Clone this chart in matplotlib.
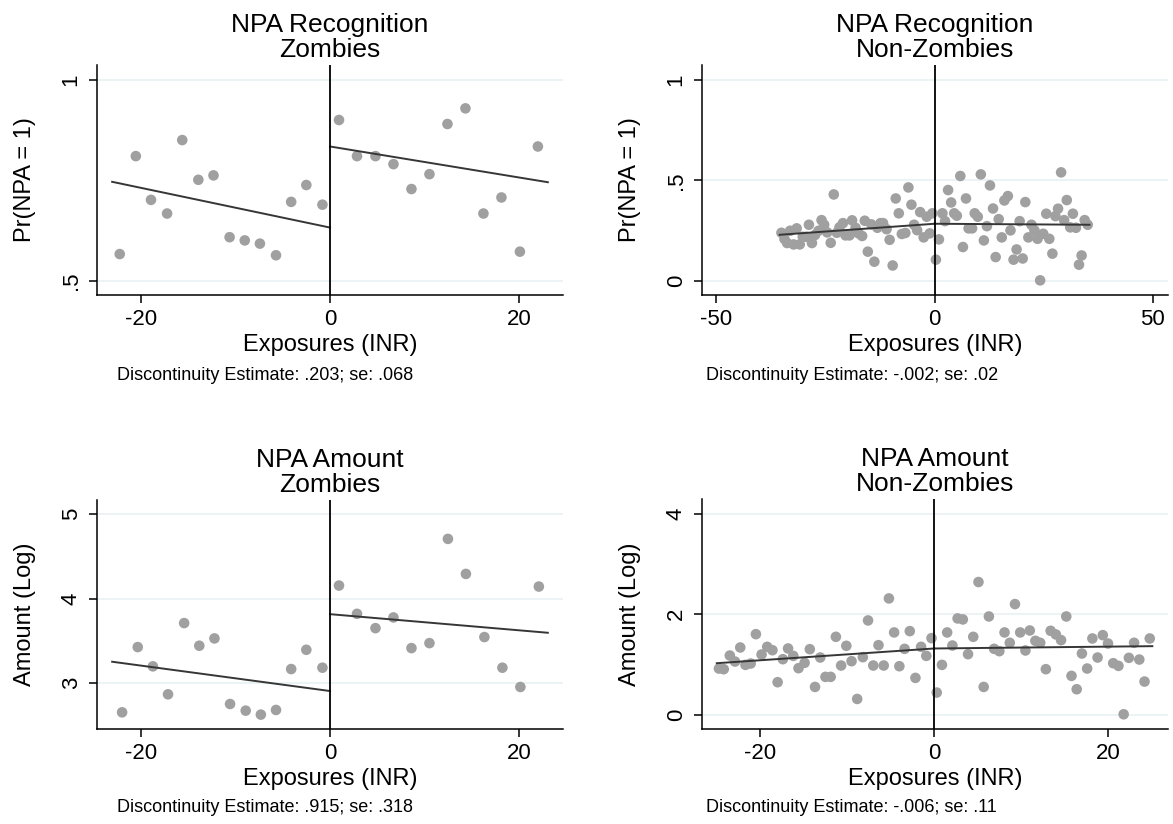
import matplotlib.pyplot as plt
import numpy as np

plt.rcParams['font.family'] = ['Liberation Sans', 'DejaVu Sans']

# Panel 1: NPA recognition, zombies (binned means)
z_rec_x = [-22.2, -20.5, -18.9, -17.2, -15.6, -13.9, -12.3, -10.6, -9.0, -7.4, -5.7, -4.1, -2.5, -0.8,
           0.95, 2.85, 4.8, 6.7, 8.6, 10.5, 12.4, 14.3, 16.2, 18.1, 20.05, 21.95]
z_rec_y = [0.566, 0.810, 0.701, 0.667, 0.850, 0.751, 0.762, 0.608, 0.600, 0.592, 0.563, 0.696, 0.738, 0.689,
           0.900, 0.810, 0.810, 0.790, 0.728, 0.765, 0.890, 0.929, 0.667, 0.707, 0.572, 0.834]
z_rec_fit_left = ([-23.0, 0.0], [0.746, 0.632])
z_rec_fit_right = ([0.0, 23.0], [0.834, 0.745])

# Panel 2: NPA recognition, non-zombies
n_rec_x = [-35.1, -34.4, -33.8, -33.1, -32.3, -31.6, -30.9, -30.2, -29.4, -28.8, -28.1, -27.4, -26.6, -25.9,
           -25.3, -24.6, -23.8, -23.1, -22.4, -21.8, -21.0, -20.4, -19.5, -18.9, -18.1, -17.4, -16.6, -16.0,
           -15.3, -14.5, -13.8, -13.1, -12.4, -11.8, -11.0, -10.3, -9.6, -8.9, -8.2, -7.5, -6.7, -6.0,
           -5.3, -4.7, -4.0, -3.3, -2.5, -1.8, -1.1, -0.5,
           0.3, 1.0, 1.8, 2.4, 3.1, 3.8, 4.5, 5.1, 5.9, 6.5, 7.2, 7.8, 8.6, 9.2, 9.9, 10.6, 11.3, 12.0,
           12.7, 13.4, 14.0, 14.7, 15.4, 16.0, 16.8, 17.4, 18.1, 18.8, 19.5, 20.2, 20.8, 21.5, 22.2, 22.9,
           23.6, 24.2, 24.9, 25.6, 26.3, 27.0, 27.7, 28.3, 29.0, 29.7, 30.3, 31.1, 31.7, 32.4, 33.1, 33.7,
           34.4, 35.1]
n_rec_y = [0.239, 0.208, 0.188, 0.249, 0.181, 0.261, 0.181, 0.219, 0.219, 0.279, 0.188, 0.228, 0.249, 0.302,
           0.279, 0.241, 0.189, 0.430, 0.239, 0.266, 0.287, 0.226, 0.226, 0.301, 0.264, 0.236, 0.223, 0.299,
           0.145, 0.281, 0.095, 0.264, 0.287, 0.287, 0.257, 0.204, 0.076, 0.410, 0.336, 0.233, 0.238, 0.465,
           0.379, 0.279, 0.252, 0.342, 0.216, 0.319, 0.236, 0.336,
           0.105, 0.206, 0.336, 0.297, 0.452, 0.390, 0.336, 0.324, 0.522, 0.168, 0.410, 0.261, 0.261, 0.336,
           0.319, 0.530, 0.201, 0.272, 0.475, 0.360, 0.118, 0.307, 0.216, 0.400, 0.422, 0.251, 0.105, 0.156,
           0.297, 0.111, 0.392, 0.216, 0.279, 0.251, 0.209, 0.002, 0.234, 0.334, 0.209, 0.135, 0.322, 0.359,
           0.540, 0.302, 0.402, 0.266, 0.334, 0.264, 0.080, 0.126, 0.302, 0.279]
n_rec_fit_left = ([-35.5, 0.0], [0.229, 0.284])
n_rec_fit_right = ([0.0, 35.5], [0.284, 0.279])

# Panel 3: NPA amount, zombies
z_amt_x = [-21.95, -20.3, -18.7, -17.1, -15.4, -13.8, -12.2, -10.55, -8.9, -7.3, -5.7, -4.1, -2.5, -0.8,
           0.95, 2.85, 4.8, 6.7, 8.6, 10.5, 12.45, 14.35, 16.3, 18.2, 20.1, 22.05]
z_amt_y = [2.648, 3.423, 3.194, 2.862, 3.708, 3.439, 3.526, 2.747, 2.668, 2.621, 2.676, 3.162, 3.391, 3.178,
           4.154, 3.818, 3.648, 3.775, 3.411, 3.470, 4.708, 4.292, 3.542, 3.178, 2.949, 4.142]
z_amt_fit_left = ([-23.0, 0.0], [3.249, 2.901])
z_amt_fit_right = ([0.0, 23.0], [3.814, 3.593])

# Panel 4: NPA amount, non-zombies
n_amt_x = [-24.75, -24.2, -23.5, -22.9, -22.3, -21.7, -21.1, -20.5, -19.85, -19.2, -18.6, -18.0, -17.4, -16.8,
           -16.2, -15.6, -14.9, -14.3, -13.7, -13.1, -12.5, -11.9, -11.3, -10.7, -10.1, -9.5, -8.85, -8.2,
           -7.6, -7.0, -6.4, -5.8, -5.2, -4.6, -4.0, -3.4, -2.8, -2.15, -1.5, -0.9, -0.3,
           0.3, 0.9, 1.5, 2.1, 2.7, 3.3, 3.9, 4.5, 5.1, 5.7, 6.3, 6.9, 7.5, 8.1, 8.7, 9.3, 9.9, 10.5,
           11.0, 11.65, 12.2, 12.85, 13.4, 14.0, 14.6, 15.2, 15.8, 16.4, 17.0, 17.6, 18.2, 18.8, 19.4, 20.0,
           20.6, 21.2, 21.8, 22.4, 23.0, 23.6, 24.2, 24.8]
n_amt_y = [0.917, 0.904, 1.176, 1.056, 1.336, 0.990, 1.017, 1.601, 1.196, 1.349, 1.282, 0.645, 1.103, 1.316,
           1.169, 0.924, 1.030, 1.302, 0.551, 1.136, 0.751, 0.751, 1.548, 0.977, 1.369, 1.063, 0.312, 1.143,
           1.874, 0.977, 1.382, 0.977, 2.312, 1.635, 0.963, 1.309, 1.661, 0.731, 1.349, 1.169, 1.522,
           0.439, 0.990, 1.635, 1.375, 1.914, 1.894, 1.203, 1.548, 2.638, 0.551, 1.953, 1.309, 1.262, 1.635,
           1.429, 2.199, 1.635, 1.276, 1.674, 1.468, 1.429, 0.904, 1.668, 1.595, 1.482, 1.953, 0.771, 0.505,
           1.216, 0.917, 1.515, 1.136, 1.581, 1.415, 1.023, 0.970, 0.007, 1.130, 1.429, 1.096, 0.658, 1.515]
n_amt_fit_left = ([-25.0, 0.0], [1.023, 1.316])
n_amt_fit_right = ([0.0, 25.1], [1.316, 1.362])

W, H = 1173, 824
fig = plt.figure(figsize=(W / 100, H / 100), dpi=100)


def px_axes(left, top, right, bottom):
    return fig.add_axes([left / W, 1 - bottom / H, (right - left) / W, (bottom - top) / H])


def draw_panel(ax, x, y, fit_l, fit_r, xlim, ylim, xticks, yticks, yticklabels, title, ylabel):
    grid_col = '#eaf2f3'
    for t in yticks:
        ax.axhline(t, color=grid_col, linewidth=1.3, zorder=0)
    ax.scatter(x, y, s=58, color='#a0a0a0', edgecolors='none', zorder=2)
    ax.plot(*fit_l, color='#363636', linewidth=1.4, zorder=3)
    ax.plot(*fit_r, color='#363636', linewidth=1.4, zorder=3)
    ax.axvline(0, color='black', linewidth=1.3, zorder=4)
    ax.set_xlim(*xlim)
    ax.set_ylim(*ylim)
    ax.set_xticks(xticks)
    ax.set_xticklabels([str(t) for t in xticks])
    ax.set_yticks(yticks)
    ax.set_yticklabels(yticklabels, rotation=90, va='center')
    for side in ['top', 'right']:
        ax.spines[side].set_visible(False)
    for side in ['left', 'bottom']:
        ax.spines[side].set_linewidth(1.1)
    ax.tick_params(axis='both', labelsize=16, length=6, width=1.1, direction='out')
    ax.tick_params(axis='x', pad=4)
    ax.tick_params(axis='y', pad=5)
    ax.set_title(title, fontsize=19, pad=6, linespacing=1.05)
    ax.set_xlabel('Exposures (INR)', fontsize=17, labelpad=3)
    ax.set_ylabel(ylabel, fontsize=17, labelpad=18)


ax1 = px_axes(97, 65, 563, 295)
draw_panel(ax1, z_rec_x, z_rec_y, z_rec_fit_left, z_rec_fit_right, (-24.6, 24.6), (0.464, 1.037),
           [-20, 0, 20], [0.5, 1.0], ['.5', '1'], 'NPA Recognition\nZombies', 'Pr(NPA = 1)')

ax2 = px_axes(702, 65, 1168, 295)
draw_panel(ax2, n_rec_x, n_rec_y, n_rec_fit_left, n_rec_fit_right, (-53.3, 53.5), (-0.071, 1.075),
           [-50, 0, 50], [0.0, 0.5, 1.0], ['0', '.5', '1'], 'NPA Recognition\nNon-Zombies', 'Pr(NPA = 1)')

ax3 = px_axes(97, 500, 563, 729)
draw_panel(ax3, z_amt_x, z_amt_y, z_amt_fit_left, z_amt_fit_right, (-24.6, 24.6), (2.45, 5.17),
           [-20, 0, 20], [3, 4, 5], ['3', '4', '5'], 'NPA Amount\nZombies', 'Amount (Log)')

ax4 = px_axes(702, 499, 1168, 729)
draw_panel(ax4, n_amt_x, n_amt_y, n_amt_fit_left, n_amt_fit_right, (-26.7, 26.9), (-0.286, 4.29),
           [-20, 0, 20], [0, 2, 4], ['0', '2', '4'], 'NPA Amount\nNon-Zombies', 'Amount (Log)')

# Notes under each panel
note_kw = dict(fontsize=13, ha='left', va='center')
fig.text(117 / W, 1 - 376 / H, 'Discontinuity Estimate: .203; se: .068', **note_kw)
fig.text(706 / W, 1 - 376 / H, 'Discontinuity Estimate: -.002; se: .02', **note_kw)
fig.text(117 / W, 1 - 808 / H, 'Discontinuity Estimate: .915; se: .318', **note_kw)
fig.text(706 / W, 1 - 808 / H, 'Discontinuity Estimate: -.006; se: .11', **note_kw)

fig.savefig('out.png', dpi=100, facecolor='white')
